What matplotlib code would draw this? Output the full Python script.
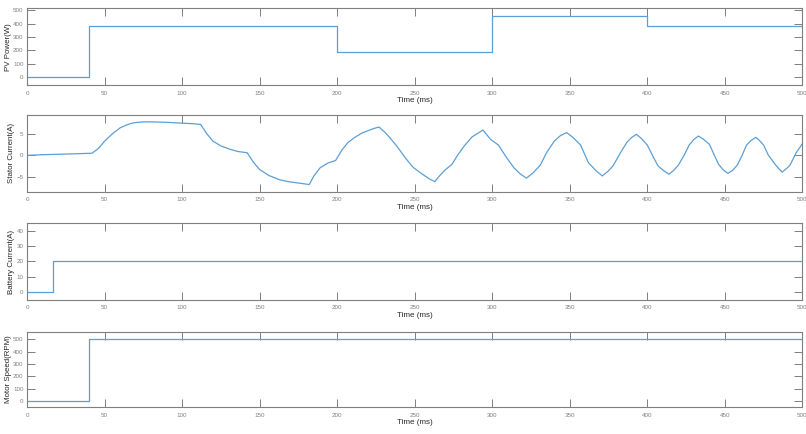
import matplotlib
matplotlib.use("Agg")
import matplotlib.pyplot as plt

plt.rcParams["font.family"] = ["Liberation Sans", "DejaVu Sans"]

LINE_COLOR = "#5b9fd6"
AX_COLOR = "#7f7f7f"

# PV power: step levels (W)
pv_t = [0, 40, 40, 200, 200, 300, 300, 400, 400, 500]
pv_w = [0, 0, 380, 380, 190, 190, 460, 460, 380, 380]

# stator current (A)
st_t = [0, 10, 20, 30, 42, 46, 50, 55, 60, 65, 69, 75, 80, 90, 100, 106, 112,
        116, 120, 125, 131, 136, 142, 146, 150, 156, 163, 168, 174, 178, 182,
        185, 189, 194, 199, 203, 207, 211, 216, 221, 224, 227,
        231, 234, 239, 244, 249, 255, 260, 263,
        266, 269, 274, 278, 282, 287, 291, 294, 299, 304,
        309, 314, 318, 322, 326, 331, 335, 340, 344, 348, 352, 357, 362, 367, 371,
        375, 378, 383, 387, 390, 393, 396, 400, 404, 407, 411, 414,
        417, 420, 424, 427, 430, 433, 436, 440, 443, 446, 449, 452,
        455, 458, 461, 464, 467, 470, 472, 475, 478, 482, 485, 487,
        490, 492, 496, 500]
st_a = [0.0, 0.15, 0.25, 0.35, 0.5, 1.6, 3.3, 5.0, 6.4, 7.2, 7.6, 7.8, 7.8, 7.7, 7.5, 7.4, 7.2,
        5.0, 3.3, 2.2, 1.4, 0.9, 0.6, -1.6, -3.3, -4.7, -5.7, -6.1, -6.4, -6.6, -6.8,
        -4.8, -2.9, -1.8, -1.2, 1.2, 3.0, 4.1, 5.2, 5.9, 6.3, 6.6,
        5.3, 4.1, 1.9, -0.6, -2.8, -4.4, -5.6, -6.1,
        -4.8, -3.6, -2.1, 0.2, 2.2, 4.3, 5.2, 5.9, 3.7, 2.4,
        -0.4, -2.9, -4.3, -5.3, -4.2, -2.3, 0.6, 3.3, 4.6, 5.3, 4.2, 2.4, -1.7, -3.6, -4.8,
        -3.6, -2.4, 0.8, 3.1, 4.2, 4.9, 4.0, 2.4, -0.5, -2.5, -3.7, -4.4,
        -3.5, -2.3, 0.2, 2.4, 3.7, 4.5, 3.8, 2.6, 0.2, -2.1, -3.4, -4.2,
        -3.5, -2.3, -0.1, 2.4, 3.5, 4.2, 3.6, 2.4, 0.1, -1.9, -3.2, -3.9,
        -3.0, -2.3, 0.6, 2.7]

# battery current (A)
bat_t = [0, 17, 17, 500]
bat_a = [0, 0, 20.5, 20.5]

# motor speed (RPM)
spd_t = [0, 40, 40, 500]
spd_r = [0, 0, 500, 500]

panels = [
    (pv_t, pv_w, "PV Power(W)", (-60, 515), [0, 100, 200, 300, 400, 500]),
    (st_t, st_a, "Stator Current(A)", (-8.5, 9.4), [-5, 0, 5]),
    (bat_t, bat_a, "Battery Current(A)", (-5, 45), [0, 10, 20, 30, 40]),
    (spd_t, spd_r, "Motor Speed(RPM)", (-50, 560), [0, 100, 200, 300, 400, 500]),
]

# axes boxes in figure fraction [left, bottom, width, height]
boxes = [
    [0.0335, 0.804, 0.962, 0.177],
    [0.0335, 0.558, 0.962, 0.177],
    [0.0335, 0.309, 0.962, 0.177],
    [0.0335, 0.062, 0.962, 0.173],
]

fig = plt.figure(figsize=(8.06, 4.34), dpi=100)

for (t, y, label, ylim, yticks), box in zip(panels, boxes):
    ax = fig.add_axes(box)
    ax.plot(t, y, color=LINE_COLOR, linewidth=0.9)
    ax.set_xlim(0, 500)
    ax.set_ylim(*ylim)
    ax.set_xticks(range(0, 501, 50))
    ax.set_yticks(yticks)
    ax.tick_params(direction="in", top=True, right=True, length=6, width=0.7,
                   colors=AX_COLOR, labelsize=4.5, pad=2.5)
    ax.tick_params(axis="x", pad=4)
    for s in ax.spines.values():
        s.set_color(AX_COLOR)
        s.set_linewidth(0.8)
    ax.set_xlabel("Time (ms)", fontsize=5.8, color="#262626", labelpad=1)
    ax.set_ylabel(label, fontsize=5.7, color="#262626", labelpad=1)

fig.savefig("out.png", dpi=100)
